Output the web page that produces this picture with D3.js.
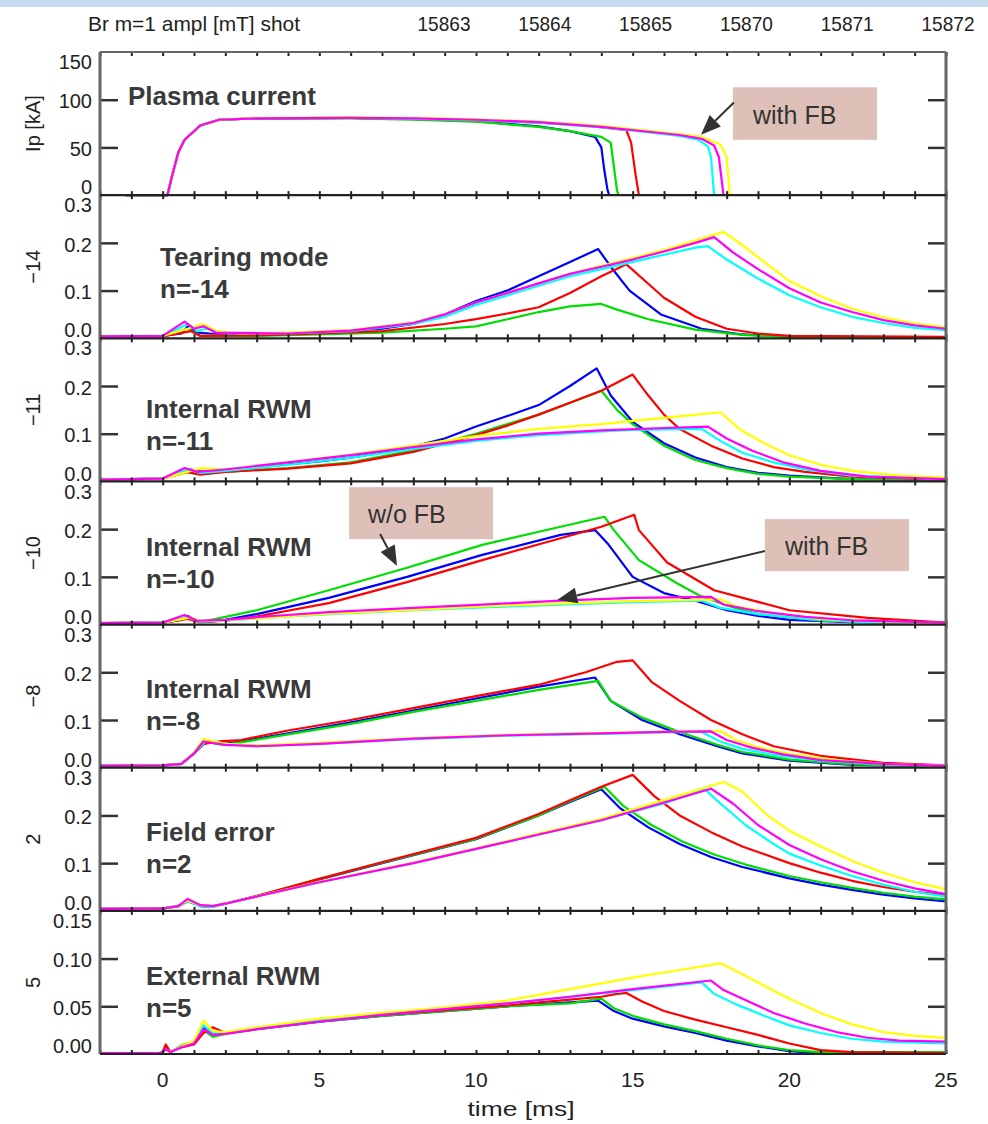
<!DOCTYPE html>
<html><head><meta charset="utf-8">
<script src="https://cdn.jsdelivr.net/npm/d3@7"></script>
<style>body{margin:0;background:#fff} svg{display:block}</style>
</head><body>
<svg id="c" width="988" height="1124"></svg>
<script>
// ---------------- data ----------------
const shots = ["15863","15864","15865","15870","15871","15872"];
const headerText = "Br m=1 ampl [mT] shot";
const panelTitles = ["Ip [kA]","\u221214","\u221211","\u221210","\u22128","2","5"];
const panelMax = [150,0.3,0.3,0.3,0.3,0.3,0.15];
const yTicks = [[0,50,100,150],[0,0.1,0.2,0.3],[0,0.1,0.2,0.3],[0,0.1,0.2,0.3],[0,0.1,0.2,0.3],[0,0.1,0.2,0.3],[0,0.05,0.10,0.15]];
const yTickLabels = [["0","50","100","150"],["0.0","0.1","0.2","0.3"],["0.0","0.1","0.2","0.3"],["0.0","0.1","0.2","0.3"],["0.0","0.1","0.2","0.3"],["0.0","0.1","0.2","0.3"],["0.00","0.05","0.10","0.15"]];
const xTicks = [0,5,10,15,20,25];
const xLabel = "time [ms]";
const noteLine1 = ["Plasma current","Tearing mode","Internal RWM","Internal RWM","Internal RWM","Field error","External RWM"];
const noteLine2 = ["","n=-14","n=-11","n=-10","n=-8","n=2","n=5"];

// Traces, one list per panel, series in shot order: 15863 15864 15865 15870 15871 15872
const ipTraces = [
 [[-1.2,0],[0.15,0],[0.3,20],[0.5,45],[0.7,58],[1.2,73],[1.8,79],[3,80.5],[6,81],[8,80],[10,77.5],[12,72],[13,67],[13.8,61],[14.0,50],[14.1,25],[14.2,5],[14.25,0]],
 [[-1.2,0],[0.15,0],[0.3,20],[0.5,45],[0.7,58],[1.2,73],[1.8,79],[3,80.5],[6,80.5],[8,79],[10,77],[12,71.5],[13,67],[14,61],[14.3,55],[14.4,30],[14.5,5],[14.55,0]],
 [[-1.2,0],[0.15,0],[0.3,20],[0.5,45],[0.7,58],[1.2,73],[1.8,79],[3,80.5],[6,81],[8,80],[10,78.5],[12,76],[13.5,73],[14.8,68],[14.95,55],[15.1,20],[15.2,0]],
 [[-1.2,0],[0.15,0],[0.3,20],[0.5,45],[0.7,58],[1.2,73],[1.8,79],[3,80.5],[6,81],[8,80],[10,78.5],[12,76],[14,71],[15.2,67],[16.5,62],[17.1,58],[17.4,51],[17.5,40],[17.6,0]],
 [[-1.2,0],[0.15,0],[0.3,20],[0.5,45],[0.7,58],[1.2,73],[1.8,79],[3,80.5],[6,81],[8,80.5],[10,79],[12,76.5],[14,71.5],[15.2,67.5],[16.5,63],[17.2,59],[17.6,52],[17.75,40],[17.9,0]],
 [[-1.2,0],[0.15,0],[0.3,20],[0.5,45],[0.7,58],[1.2,73],[1.8,79],[3,81],[6,81.5],[8,81],[10,79.5],[12,77],[14,72.5],[15.2,68.5],[16.5,64],[17.2,61],[17.8,53],[18.0,40],[18.1,0]]
];
const n14Traces = [
 [[-2,.004],[0,.005],[0.6,.01],[0.8,.025],[1.1,.012],[1.5,.01],[3,.008],[5,.012],[7,.02],[8,.03],[9,.05],[10,.078],[11,.1],[12,.13],[13,.16],[13.9,.187],[14.3,.15],[14.9,.1],[15.9,.05],[17.2,.02],[18.5,.008],[20,.003],[25,.002]],
 [[-2,.004],[0,.004],[0.8,.02],[1.2,.005],[3,.005],[5,.008],[7,.012],[9,.02],[10,.025],[11,.04],[12,.055],[13,.067],[14,.072],[14.5,.06],[15.5,.04],[17,.018],[18.5,.007],[20,.003],[25,.002]],
 [[-2,.004],[0,.004],[0.9,.015],[1.2,.005],[3,.006],[5,.01],[7,.015],[9,.03],[10,.04],[11,.052],[12,.065],[13,.095],[14,.13],[14.8,.155],[15.4,.12],[16,.085],[17,.045],[18,.02],[19,.01],[20,.005],[25,.003]],
 [[-2,.004],[0,.005],[0.8,.03],[1.1,.015],[1.4,.02],[2,.01],[4,.01],[6,.015],[8,.03],[9,.045],[10,.07],[11,.09],[12,.11],[13,.13],[14,.145],[15,.16],[16,.175],[17,.19],[17.4,.193],[18,.165],[19,.125],[20,.09],[21,.065],[22,.045],[23,.032],[24,.022],[25,.017]],
 [[-2,.004],[0,.005],[0.7,.035],[1.0,.02],[1.3,.025],[1.7,.012],[4,.01],[6,.016],[8,.032],[9,.05],[10,.075],[11,.095],[12,.115],[13,.135],[14,.15],[15,.165],[16,.182],[17,.2],[17.6,.212],[18.2,.18],[19,.145],[20,.105],[21,.075],[22,.055],[23,.038],[24,.027],[25,.02]],
 [[-2,.004],[0,.005],[0.8,.02],[1.3,.03],[1.7,.015],[2.5,.01],[4,.012],[6,.017],[8,.033],[9,.05],[10,.075],[11,.095],[12,.115],[13,.135],[14,.152],[15,.168],[16,.185],[17,.205],[17.9,.223],[18.5,.195],[19.2,.16],[20,.12],[21,.088],[22,.062],[23,.044],[24,.031],[25,.023]]
];
const n11Traces = [
 [[-2,.004],[0,.006],[0.6,.02],[0.9,.025],[1.3,.02],[2,.025],[3,.03],[5,.042],[6,.05],[7.6,.067],[9,.09],[10,.115],[11,.137],[12,.16],[13,.2],[13.85,.237],[14.3,.18],[15,.125],[16,.08],[17,.05],[18,.03],[19,.018],[20,.012],[22,.005],[25,.003]],
 [[-2,.004],[0,.006],[0.7,.02],[1.1,.015],[2,.02],[4,.028],[6,.04],[8,.065],[9,.082],[10,.1],[11,.12],[12,.14],[13,.165],[14,.19],[14.5,.15],[15,.12],[16,.075],[17,.045],[18,.028],[19,.016],[20,.01],[22,.005],[25,.003]],
 [[-2,.004],[0,.006],[0.8,.02],[1.2,.014],[2,.02],[4,.027],[6,.038],[8,.062],[10,.097],[11,.117],[12,.14],[13,.165],[14,.19],[15,.224],[15.5,.18],[16,.14],[16.5,.11],[17.5,.075],[18.5,.048],[19.5,.03],[20.5,.02],[22,.01],[25,.004]],
 [[-2,.004],[0,.006],[0.8,.025],[1.2,.018],[2,.022],[4,.035],[6,.05],[8,.068],[10,.085],[12,.097],[14,.105],[15,.108],[17.2,.11],[17.8,.085],[18.5,.06],[19.5,.04],[20.5,.025],[22,.012],[25,.005]],
 [[-2,.004],[0,.006],[0.7,.028],[1.1,.02],[2,.025],[4,.04],[6,.055],[8,.072],[10,.088],[12,.1],[14,.107],[16,.112],[17.4,.115],[18,.09],[18.8,.065],[19.8,.04],[21,.022],[22.5,.01],[25,.005]],
 [[-2,.004],[0,.006],[0.9,.022],[1.3,.028],[2,.025],[4,.04],[6,.056],[8,.075],[10,.095],[12,.11],[14,.12],[15,.127],[16,.133],[17.8,.145],[18.4,.11],[19.2,.08],[20,.055],[21,.035],[22,.022],[23.5,.012],[25,.008]]
];
const n10Traces = [
 [[-2,.003],[0,.004],[0.6,.01],[0.8,.018],[1.1,.008],[1.5,.006],[2,.01],[3,.022],[5.3,.056],[7.8,.1],[10.2,.146],[12.7,.188],[13.8,.198],[14.2,.17],[15,.1],[16,.066],[17,.05],[18,.03],[19,.018],[20,.01],[22,.005],[25,.003]],
 [[-2,.003],[0,.004],[0.8,.015],[1.2,.006],[1.7,.012],[3,.03],[5.3,.072],[7.8,.119],[10.2,.167],[12.7,.205],[14.1,.226],[14.4,.198],[15.2,.135],[16.4,.087],[17.1,.062],[18,.04],[19,.022],[21,.008],[25,.003]],
 [[-2,.003],[0,.004],[0.8,.012],[1.2,.005],[2,.008],[3,.017],[5.3,.045],[7.8,.089],[10.2,.135],[12.7,.181],[14,.205],[15.05,.23],[15.2,.198],[16.1,.13],[17.6,.072],[20,.03],[22.5,.014],[25,.004]],
 [[-2,.003],[0,.004],[0.8,.015],[1.2,.006],[2,.008],[3.5,.015],[5.3,.022],[8,.03],[10.2,.036],[12.7,.042],[15,.047],[17.2,.05],[17.8,.035],[19,.022],[20.5,.012],[22,.006],[25,.002]],
 [[-2,.003],[0,.004],[0.7,.02],[1.1,.008],[2,.01],[3.5,.018],[5.3,.026],[8,.035],[10.2,.042],[12.7,.05],[15,.056],[17.5,.058],[17.9,.042],[19,.028],[20.5,.016],[22,.009],[25,.004]],
 [[-2,.003],[0,.004],[0.9,.015],[1.2,.008],[2,.009],[3.5,.015],[5.3,.023],[8,.031],[10.2,.038],[12.7,.044],[15,.049],[17.8,.053],[18.3,.038],[19.5,.024],[21,.012],[23,.006],[25,.003]]
];
const n8Traces = [
 [[-2,.004],[0,.005],[0.6,.008],[1,.03],[1.3,.05],[1.6,.055],[2,.05],[2.5,.055],[4,.072],[6,.095],[8,.12],[10,.145],[12,.17],[13.8,.189],[14.3,.14],[15.3,.1],[16.5,.07],[17.7,.045],[18.5,.03],[20,.015],[22,.006],[25,.003]],
 [[-2,.004],[0,.005],[0.6,.008],[1,.03],[1.4,.055],[1.7,.05],[2,.048],[2.5,.053],[4,.07],[6,.092],[8,.117],[10,.14],[12,.163],[13.9,.182],[14.3,.14],[15.3,.105],[16.5,.075],[17.7,.048],[18.5,.033],[20,.017],[22,.007],[25,.003]],
 [[-2,.004],[0,.005],[0.6,.008],[1,.03],[1.3,.05],[1.8,.055],[2.5,.058],[4,.078],[6,.1],[8,.125],[10,.15],[12,.174],[13.5,.2],[14.5,.222],[15,.225],[15.6,.18],[16.5,.14],[17.5,.1],[18.5,.07],[19.5,.045],[21,.025],[23,.01],[25,.005]],
 [[-2,.004],[0,.005],[0.6,.008],[1,.03],[1.4,.058],[2,.05],[3,.045],[5,.05],[8,.06],[11,.067],[14,.071],[16,.074],[17.2,.075],[17.8,.055],[18.5,.04],[19.5,.027],[21,.015],[23,.007],[25,.004]],
 [[-2,.004],[0,.005],[0.6,.008],[1,.03],[1.3,.055],[2,.048],[3,.045],[5,.05],[8,.061],[11,.068],[14,.072],[16,.075],[17.5,.076],[18,.058],[18.8,.042],[19.8,.028],[21,.016],[23,.008],[25,.004]],
 [[-2,.004],[0,.005],[0.6,.008],[1,.032],[1.3,.06],[2,.05],[3,.047],[5,.052],[8,.062],[11,.069],[14,.073],[16,.075],[17.8,.077],[18.3,.058],[19,.043],[20,.029],[21.5,.016],[23,.008],[25,.004]]
];
const n2Traces = [
 [[-2,.004],[0,.005],[0.5,.01],[0.8,.02],[1.2,.01],[1.5,.008],[2,.015],[3,.03],[5,.066],[7,.1],[10,.15],[12,.2],[13,.228],[14,.255],[14.6,.215],[15.5,.175],[16.5,.14],[17.5,.113],[18.5,.092],[20,.068],[21,.055],[22,.044],[23,.034],[24,.026],[25,.02]],
 [[-2,.004],[0,.005],[0.5,.01],[0.8,.022],[1.2,.012],[1.6,.008],[2,.015],[3,.031],[5,.067],[7,.101],[10,.151],[12,.2],[13,.23],[14.1,.26],[14.7,.22],[15.6,.18],[16.6,.145],[17.6,.118],[18.6,.097],[20,.073],[21,.06],[22,.048],[23,.038],[24,.03],[25,.024]],
 [[-2,.004],[0,.005],[0.5,.01],[0.8,.02],[1.2,.012],[1.6,.01],[2,.015],[3,.031],[5,.067],[7,.102],[10,.153],[12,.203],[13,.232],[14,.26],[15,.285],[15.7,.24],[16.5,.2],[17.5,.165],[18.5,.135],[20,.1],[21,.08],[22,.063],[23,.05],[24,.04],[25,.033]],
 [[-2,.004],[0,.005],[0.5,.01],[0.8,.02],[1.2,.01],[1.6,.008],[2,.015],[3,.03],[5,.06],[8,.1],[10,.13],[12,.16],[14,.19],[16,.225],[17.3,.255],[17.8,.225],[18.6,.18],[19.5,.14],[20,.12],[21,.095],[22,.073],[23,.055],[24,.04],[25,.03]],
 [[-2,.004],[0,.005],[0.5,.01],[0.8,.025],[1.2,.012],[1.6,.01],[2,.015],[3,.03],[5,.06],[8,.1],[10,.13],[12,.16],[14,.19],[16,.227],[17.5,.256],[18.2,.225],[19,.18],[20,.138],[21,.108],[22,.083],[23,.063],[24,.047],[25,.035]],
 [[-2,.004],[0,.005],[0.5,.01],[0.8,.022],[1.2,.012],[1.6,.01],[2,.015],[3,.03],[5,.061],[8,.101],[10,.131],[12,.162],[14,.193],[16,.232],[17.9,.27],[18.5,.25],[19.3,.2],[20,.168],[21,.135],[22,.105],[23,.08],[24,.06],[25,.045]]
];
const n5Traces = [
 [[-2,.001],[-0.1,.001],[0,.002],[0.1,.008],[0.25,.002],[0.6,.008],[1,.012],[1.3,.028],[1.6,.02],[2,.022],[3,.026],[5,.034],[7,.04],[9,.045],[11,.05],[12,.052],[13,.054],[13.9,.056],[14.4,.045],[15,.037],[16,.029],[17,.022],[18,.014],[19,.008],[20,.003],[21,.001],[25,.001]],
 [[-2,.001],[-0.1,.001],[0,.002],[0.1,.006],[0.25,.002],[0.6,.009],[1,.013],[1.3,.025],[1.6,.018],[2,.021],[3,.026],[5,.034],[7,.04],[9,.045],[11,.05],[13,.053],[14,.058],[14.4,.048],[15,.04],[16,.031],[17,.024],[18,.016],[19,.009],[20,.004],[21,.002],[25,.002]],
 [[-2,.001],[-0.1,.001],[0,.002],[0.1,.01],[0.25,.002],[0.6,.007],[1,.01],[1.3,.022],[1.6,.028],[2,.022],[3,.027],[5,.035],[7,.041],[9,.046],[11,.051],[12,.054],[13,.057],[14,.06],[14.5,.063],[14.8,.064],[15.3,.055],[16,.045],[17,.036],[18,.028],[19,.02],[20,.011],[21,.004],[22,.002],[25,.001]],
 [[-2,.001],[-0.1,.001],[0,.002],[0.1,.005],[0.25,.002],[0.6,.008],[1,.012],[1.3,.03],[1.6,.022],[2,.022],[3,.027],[5,.035],[7,.042],[9,.048],[11,.053],[13,.06],[15,.067],[17.2,.075],[17.6,.063],[18.3,.052],[19.2,.04],[20,.03],[21,.022],[22,.016],[23,.013],[25,.011]],
 [[-2,.001],[-0.1,.001],[0,.002],[0.1,.005],[0.25,.002],[0.6,.007],[1,.011],[1.3,.026],[1.6,.02],[2,.021],[3,.026],[5,.034],[7,.041],[9,.047],[11,.053],[13,.06],[15,.068],[17.5,.077],[17.9,.067],[18.7,.055],[19.5,.043],[20.5,.032],[21.5,.023],[22.5,.017],[23.5,.014],[25,.013]],
 [[-2,.001],[-0.1,.001],[0,.002],[0.1,.004],[0.25,.002],[0.6,.008],[1,.014],[1.3,.035],[1.6,.024],[2,.023],[3,.028],[5,.037],[7,.043],[9,.049],[11,.056],[13,.068],[15,.08],[16.5,.088],[17.8,.095],[18.3,.087],[19,.075],[20,.058],[21,.043],[22,.031],[23,.023],[24,.019],[25,.017]]
];

// Annotation boxes (data coordinates of their panel)
const boxPanel = [0,3,3];
const boxText = ["with FB","w/o FB","with FB"];
const boxT = [[18.2,22.8],[5.95,10.54],[19.22,23.82]];
const boxV = [[113,58],[0.288,0.179],[0.221,0.112]];
const boxTextPos = [[18.84,75],[6.55,0.213],[19.86,0.146]];
const arrowFrom = [[18.23,97],[6.94,0.19],[19.22,0.154]];
const arrowTo = [[17.18,63.4],[7.48,0.123],[12.59,0.0515]];

// ---------------- drawing ----------------
const svg = d3.select("#c");
const W = 988, X0 = 100, X1 = 946, TOP = 52, BOTTOM = 1054, NP = 7;
const PH = (BOTTOM - TOP) / NP;
const x = d3.scaleLinear().domain([-2, 25]).range([X0, X1]);
const shotColors = ["#0000ff","#00dd00","#ff0000","#00ffff","#ff00ff","#ffff00"];
const drawOrder = [0,1,2,3,5,4];
const allTraces = [ipTraces,n14Traces,n11Traces,n10Traces,n8Traces,n2Traces,n5Traces];
const tickFont = "'Liberation Sans', Arial, sans-serif";

svg.append("rect").attr("x",0).attr("y",0).attr("width",W).attr("height",7).attr("fill","#c8dcf0");

// header
svg.append("text").attr("x",88).attr("y",31).attr("font-family",tickFont).attr("font-size",21)
  .attr("fill","#222").attr("textLength",212).attr("lengthAdjust","spacingAndGlyphs").text(headerText);
const shotX = d3.scalePoint().domain(shots).range([444, 948]);
svg.selectAll("text.shot").data(shots).enter().append("text").attr("class","shot")
  .attr("x",d=>shotX(d)).attr("y",31).attr("text-anchor","middle")
  .attr("font-family",tickFont).attr("font-size",21).attr("fill","#222")
  .attr("textLength",53).attr("lengthAdjust","spacingAndGlyphs").text(d=>d);

const scales = [];
for (let p = 0; p < NP; p++) {
  const y0 = TOP + p * PH, y1 = y0 + PH;
  const y = d3.scaleLinear().domain([0, panelMax[p]]).range([y1, y0]);
  scales.push(y);
  const g = svg.append("g");
  const line = d3.line().x(d => x(d[0])).y(d => y(d[1]));
  drawOrder.forEach(i => {
    g.append("path").attr("d", line(allTraces[p][i])).attr("fill","none")
      .attr("stroke", shotColors[i]).attr("stroke-width", 2.2).attr("stroke-linejoin","round");
  });
  const inner = yTicks[p].slice(1, -1);
  const ax = g.append("g").attr("transform",`translate(${X0},0)`)
    .call(d3.axisRight(y).tickValues(inner).tickSize(18).tickFormat(""));
  const ax2 = g.append("g").attr("transform",`translate(${X1},0)`)
    .call(d3.axisLeft(y).tickValues(inner).tickSize(18).tickFormat(""));
  [ax, ax2].forEach(a => { a.select(".domain").remove(); a.selectAll("line").attr("stroke","#333").attr("stroke-width",2.5); });
  const mins = d3.range(-2, 26, 1);
  const bx = g.append("g").attr("transform",`translate(0,${y1})`)
    .call(d3.axisBottom(x).tickValues(mins).tickSize(-4).tickFormat(""));
  const tx = g.append("g").attr("transform",`translate(0,${y0})`)
    .call(d3.axisTop(x).tickValues(mins).tickSize(-4).tickFormat(""));
  [bx, tx].forEach(a => { a.select(".domain").remove(); a.selectAll("line").attr("stroke","#222").attr("stroke-width",2); });
  yTicks[p].forEach((v, k) => {
    const off = k === 0 ? -8 : (k === yTicks[p].length - 1 ? 10 : 1.5);
    svg.append("text").attr("x", 92).attr("y", y(v) + off).attr("dy","0.36em")
      .attr("text-anchor","end").attr("font-family",tickFont).attr("font-size",20)
      .attr("fill","#222").text(yTickLabels[p][k]);
  });
  svg.append("text").attr("transform",`translate(40,${(y0+y1)/2}) rotate(-90)`)
    .attr("text-anchor","middle").attr("font-family",tickFont).attr("font-size",20)
    .attr("fill","#222").text(panelTitles[p]);
}

// frame
svg.append("line").attr("x1",X0).attr("x2",X0).attr("y1",TOP).attr("y2",BOTTOM).attr("stroke","#666").attr("stroke-width",3);
svg.append("line").attr("x1",X1).attr("x2",X1).attr("y1",TOP).attr("y2",BOTTOM).attr("stroke","#666").attr("stroke-width",3);
for (let p = 0; p <= NP; p++) {
  const yy = TOP + p * PH;
  svg.append("line").attr("x1",X0).attr("x2",X1).attr("y1",yy).attr("y2",yy)
    .attr("stroke", p === 0 ? "#666" : "#222").attr("stroke-width", 2.2);
}

svg.selectAll("text.xt").data(xTicks).enter().append("text").attr("class","xt")
  .attr("x", d => x(d)).attr("y", 1087).attr("text-anchor","middle")
  .attr("font-family",tickFont).attr("font-size",21).attr("fill","#222").text(d => d);
svg.append("text").attr("x", 521).attr("y", 1116).attr("text-anchor","middle")
  .attr("font-family",tickFont).attr("font-size",21).attr("fill","#222")
  .attr("textLength",107).attr("lengthAdjust","spacingAndGlyphs").text(xLabel);

const noteX = [128,160,146,146,146,146,146];
const noteB1 = [105,266,418,556,698,841,985];
for (let p = 0; p < NP; p++) {
  svg.append("text").attr("x",noteX[p]).attr("y",noteB1[p]).attr("font-family","'Liberation Sans', Arial, sans-serif")
    .attr("font-weight","bold").attr("font-size",26).attr("fill","#3a3a3a").text(noteLine1[p]);
  if (noteLine2[p]) svg.append("text").attr("x",noteX[p]).attr("y",noteB1[p]+32).attr("font-family","'Liberation Sans', Arial, sans-serif")
    .attr("font-weight","bold").attr("font-size",26).attr("fill","#3a3a3a").text(noteLine2[p]);
}

boxText.forEach((t, i) => {
  const y = scales[boxPanel[i]];
  const bx0 = x(boxT[i][0]), bx1 = x(boxT[i][1]);
  const by0 = y(boxV[i][0]), by1 = y(boxV[i][1]);
  svg.append("rect").attr("x",bx0).attr("y",by0).attr("width",bx1-bx0).attr("height",by1-by0).attr("fill","#dfc0b9");
  svg.append("text").attr("x",x(boxTextPos[i][0])).attr("y",y(boxTextPos[i][1]))
    .attr("font-family","'Liberation Sans', Arial, sans-serif").attr("font-size",25).attr("fill","#333").text(t);
  const fx = x(arrowFrom[i][0]), fy = y(arrowFrom[i][1]);
  const tx = x(arrowTo[i][0]), ty = y(arrowTo[i][1]);
  const ang = Math.atan2(ty - fy, tx - fx);
  const L = 20, HW = 8;
  const bxp = tx - L * Math.cos(ang), byp = ty - L * Math.sin(ang);
  svg.append("line").attr("x1",fx).attr("y1",fy).attr("x2",bxp).attr("y2",byp).attr("stroke","#333").attr("stroke-width",2);
  const pts = [[tx,ty],[bxp + HW*Math.sin(ang), byp - HW*Math.cos(ang)],[bxp - HW*Math.sin(ang), byp + HW*Math.cos(ang)]];
  svg.append("polygon").attr("points", pts.map(d=>d.join(",")).join(" ")).attr("fill","#333");
});
</script>
</body></html>
